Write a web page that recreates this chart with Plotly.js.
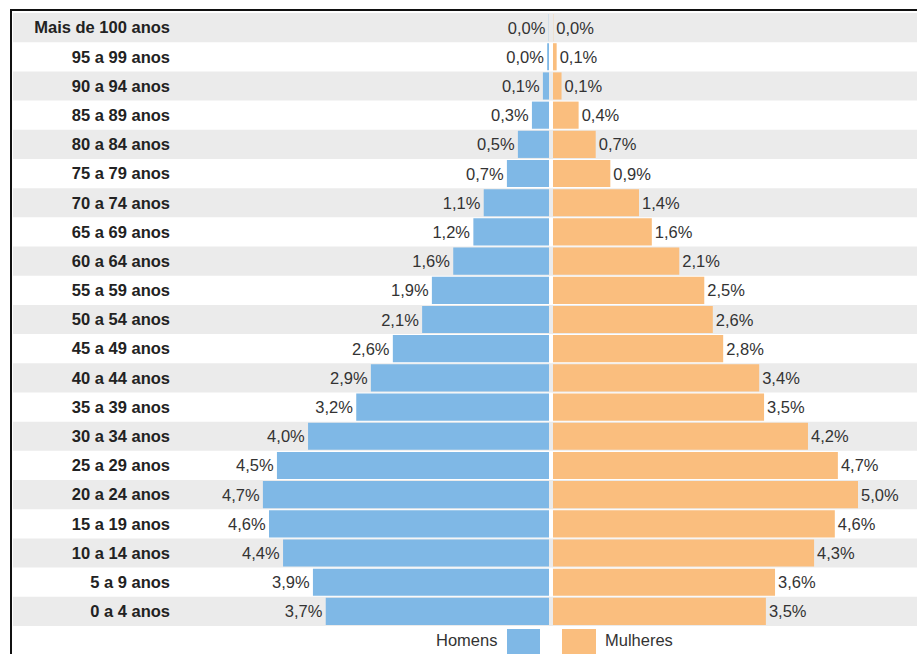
<!DOCTYPE html>
<html>
<head>
<meta charset="utf-8">
<script src="https://cdn.plot.ly/plotly-3.0.1.min.js"></script>
<style>
html,body{margin:0;padding:0;background:#fff;}
#wrap{position:relative;width:917px;height:654px;overflow:hidden;}
#chart{position:absolute;left:0;top:0;width:917px;height:654px;}
#frame{position:absolute;left:10px;top:9px;width:915px;height:660px;border-top:2px solid #111;border-left:2px solid #111;pointer-events:none;}
</style>
</head>
<body>
<div id="wrap"><div id="chart"></div><div id="frame"></div></div>
<script>
const categories = ["Mais de 100 anos","95 a 99 anos","90 a 94 anos","85 a 89 anos","80 a 84 anos","75 a 79 anos","70 a 74 anos","65 a 69 anos","60 a 64 anos","55 a 59 anos","50 a 54 anos","45 a 49 anos","40 a 44 anos","35 a 39 anos","30 a 34 anos","25 a 29 anos","20 a 24 anos","15 a 19 anos","10 a 14 anos","5 a 9 anos","0 a 4 anos"];
const homens = [0.004, 0.03, 0.1, 0.28, 0.51, 0.69, 1.07, 1.24, 1.57, 1.92, 2.08, 2.56, 2.92, 3.16, 3.95, 4.46, 4.69, 4.59, 4.36, 3.87, 3.66];
const mulheres = [0.004, 0.06, 0.14, 0.42, 0.70, 0.94, 1.41, 1.62, 2.07, 2.48, 2.62, 2.79, 3.38, 3.46, 4.18, 4.67, 5.0, 4.62, 4.28, 3.64, 3.49];
const seriesNames = ["Homens", "Mulheres"];
const colors = {homens: "#7fb8e6", mulheres: "#fabe7e", row: "#ebebeb"};

const fmt = v => v.toFixed(1).replace(".", ",") + "%";
const FONT = "Liberation Sans, Arial, sans-serif";

// pixel geometry
const W = 917, H = 654, L = 175, T = 13, B = 28;
const pw = W - L, ph = H - T - B;
const px = x => (x - L) / pw;
const py = y => (H - B - y) / ph;

const traceM = {
  type: "bar", orientation: "h", name: seriesNames[0],
  y: categories, x: homens, xaxis: "x", yaxis: "y",
  marker: {color: colors.homens},
  text: homens.map(fmt), textposition: "outside", cliponaxis: false,
  textfont: {family: FONT, size: 16.5, color: "#333"},
  hoverinfo: "none", showlegend: false
};
const traceF = {
  type: "bar", orientation: "h", name: seriesNames[1],
  y: categories, x: mulheres, xaxis: "x2", yaxis: "y",
  marker: {color: colors.mulheres},
  text: mulheres.map(fmt), textposition: "outside", cliponaxis: false,
  textfont: {family: FONT, size: 16.5, color: "#333"},
  hoverinfo: "none", showlegend: false
};

const shapes = [];
categories.forEach((c, i) => {
  if (i % 2 === 0) {
    shapes.push({type: "rect", xref: "paper", yref: "y", x0: px(13), x1: 1, y0: i - 0.5, y1: i + 0.5,
      fillcolor: colors.row, line: {width: 0}, layer: "below"});
  }
});
// legend swatches
shapes.push({type: "rect", xref: "paper", yref: "paper", x0: px(507), x1: px(540), y0: py(660), y1: py(629),
  fillcolor: colors.homens, line: {width: 0}});
shapes.push({type: "rect", xref: "paper", yref: "paper", x0: px(562), x1: px(596), y0: py(660), y1: py(629),
  fillcolor: colors.mulheres, line: {width: 0}});

const annotations = [
  {xref: "paper", yref: "paper", x: px(499), y: py(640), text: seriesNames[0], showarrow: false,
   xanchor: "right", yanchor: "middle", font: {family: FONT, size: 16.5, color: "#333"}},
  {xref: "paper", yref: "paper", x: px(603), y: py(640), text: seriesNames[1], showarrow: false,
   xanchor: "left", yanchor: "middle", font: {family: FONT, size: 16.5, color: "#333"}}
];

const layout = {
  width: W, height: H,
  margin: {l: L, r: 0, t: T, b: B, pad: 0},
  paper_bgcolor: "rgba(0,0,0,0)", plot_bgcolor: "rgba(0,0,0,0)",
  bargap: 0.07,
  xaxis: {domain: [0, px(549)], range: [(549 - L) / 61, 0], showgrid: false, zeroline: false,
          showticklabels: false, ticks: "", fixedrange: true},
  xaxis2: {domain: [px(553), 1], range: [0, (W - 553) / 61], anchor: "y", showgrid: false, zeroline: false,
          showticklabels: false, ticks: "", fixedrange: true},
  yaxis: {type: "category", range: [categories.length - 0.5, -0.5], showgrid: false, zeroline: false,
          ticks: "", ticklabelstandoff: 4,
          tickfont: {family: FONT, size: 16.5, color: "#222", weight: "bold"}},
  shapes: shapes,
  annotations: annotations,
  font: {family: FONT}
};

Plotly.newPlot("chart", [traceM, traceF], layout, {displayModeBar: false, staticPlot: true});
</script>
</body>
</html>
